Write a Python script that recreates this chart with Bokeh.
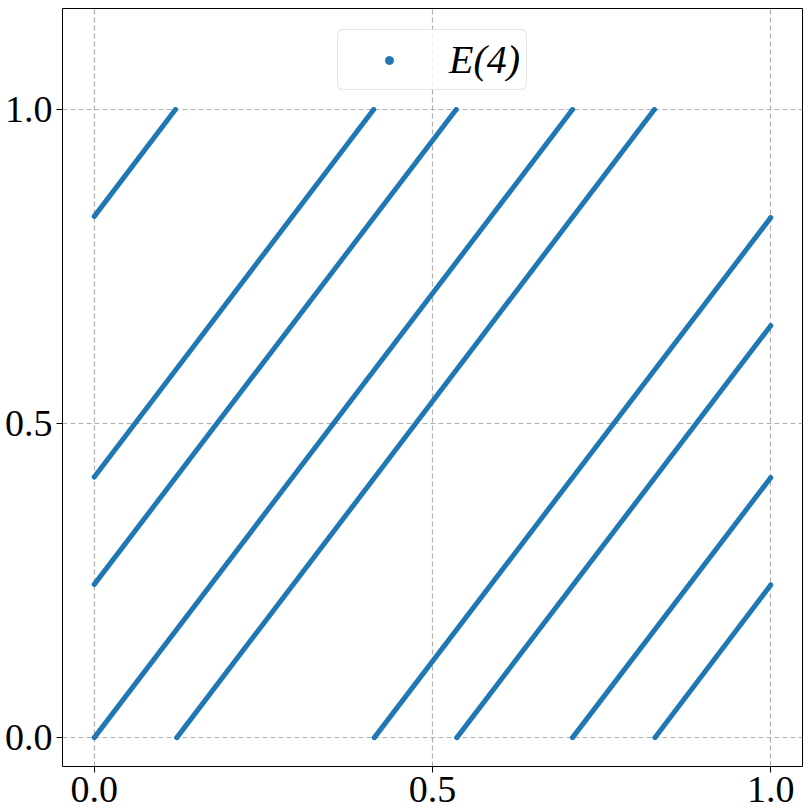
from bokeh.plotting import figure
from bokeh.models import ColumnDataSource, Range1d, FixedTicker, Legend, LegendItem
from bokeh.embed import file_html
from bokeh.resources import INLINE

# segment data (start x, start y, end x, end y)
x0 = [0.0, 0.0, 0.0, 0.0, 0.122, 0.414, 0.536, 0.707, 0.829]
y0 = [0.830, 0.415, 0.244, 0.0, 0.0, 0.0, 0.0, 0.0, 0.0]
x1 = [0.120, 0.413, 0.535, 0.707, 0.828, 1.0, 1.0, 1.0, 1.0]
y1 = [1.0, 1.0, 1.0, 1.0, 1.0, 0.828, 0.656, 0.414, 0.243]
series_label = "E(4)"
tick_values = [0.0, 0.5, 1.0]

BLUE = "#1f77b4"
FONT = "Liberation Serif"

p = figure(width=810, height=810, output_backend="svg", toolbar_location=None,
           x_range=Range1d(-0.047, 1.047), y_range=Range1d(-0.046, 1.161),
           min_border_left=62, min_border_right=8, min_border_top=8, min_border_bottom=44)

seg_src = ColumnDataSource(dict(x0=x0, y0=y0, x1=x1, y1=y1))
p.segment(x0="x0", y0="y0", x1="x1", y1="y1", source=seg_src,
          line_color=BLUE, line_width=5, line_cap="round")

pts = ColumnDataSource(dict(x=x0 + x1, y=y0 + y1))
r = p.scatter(x="x", y="y", source=pts, size=4, color=BLUE, marker="circle")

p.outline_line_color = "black"
p.outline_line_width = 1
p.background_fill_color = "white"
p.border_fill_color = "white"

for ax in (p.xaxis[0], p.yaxis[0]):
    ax.ticker = FixedTicker(ticks=tick_values)
    ax.major_label_text_font = FONT
    ax.major_label_text_font_size = "38px"
    ax.major_label_text_color = "black"
    ax.axis_line_color = None
    ax.major_tick_line_color = "black"
    ax.major_tick_out = 6
    ax.major_tick_in = 0
    ax.minor_tick_line_color = None
p.xaxis[0].major_label_standoff = 4
p.yaxis[0].major_label_standoff = 4
p.xaxis[0].major_label_overrides = {0.0: "0.0", 0.5: "0.5", 1.0: "1.0"}
p.yaxis[0].major_label_overrides = {0.0: "0.0", 0.5: "0.5", 1.0: "1.0"}

for g in (p.xgrid[0], p.ygrid[0]):
    g.ticker = FixedTicker(ticks=tick_values)
    g.grid_line_color = "#b0b0b0"
    g.grid_line_dash = "5 3"
    g.grid_line_width = 1.2

legend = Legend(items=[LegendItem(label=series_label, renderers=[r])],
                location="top_center", orientation="vertical")
legend.label_text_font = FONT
legend.label_text_font_style = "italic"
legend.label_text_font_size = "40px"
legend.label_text_color = "black"
legend.label_standoff = 15
legend.glyph_width = 90
legend.glyph_height = 20
legend.label_height = 40
legend.padding = 6
legend.margin = 21
legend.border_line_color = "#cccccc"
legend.border_line_width = 1
legend.border_radius = 6
legend.background_fill_alpha = 0.8
p.add_layout(legend)

open("out.html", "w").write(file_html(p, INLINE))
